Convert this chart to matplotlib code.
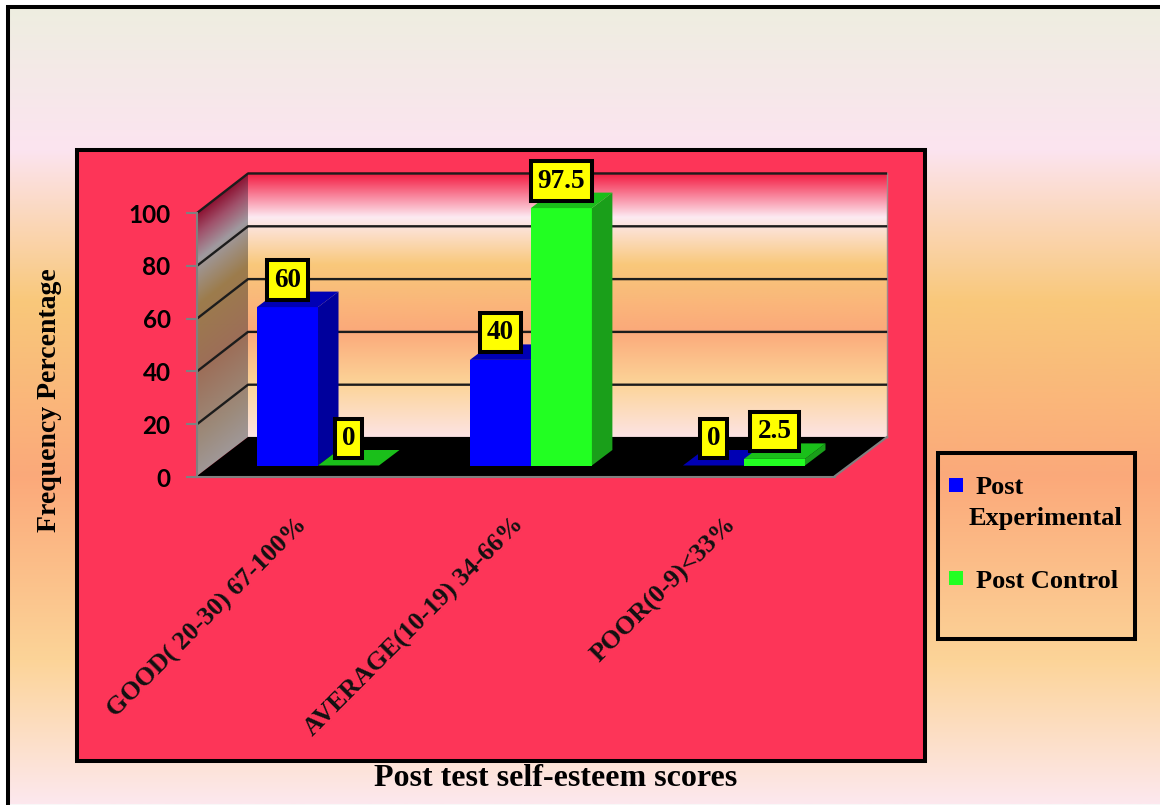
# -*- coding: utf-8 -*-
"""Post test self-esteem scores: pseudo 3D column chart on a gradient page."""
import numpy as np
import matplotlib
matplotlib.use("Agg")
import matplotlib.pyplot as plt
from matplotlib.colors import to_rgb
from matplotlib.patches import Polygon, Rectangle

categories = ["GOOD( 20-30) 67-100%", "AVERAGE(10-19) 34-66%", "POOR(0-9)<33%"]
post_experimental = [60, 40, 0]
post_control = [0, 97.5, 2.5]
y_ticks = [0, 20, 40, 60, 80, 100]

W, H = 1160, 805
PANEL = "#fd3558"
BLUE = ("#0000ff", "#00009c", "#0000b4")
GREEN = ("#22ff22", "#1a9f1a", "#1abf1a")
SERIF = "Liberation Serif"

# px per data unit on the front plane
PX_X = 638 / 3
PX_Y = 264 / 100
# floor depth, and how far the columns sit behind the front edge
DEPTH_X, DEPTH_Y = 51 / PX_X, 39.5 / PX_Y
BAR_DEPTH_X, BAR_DEPTH_Y = 20.5 / PX_X, 15.5 / PX_Y
BASE = 11.5 / PX_Y
BAR_W = 61 / PX_X
CENTERS = [0.569, 1.57, 2.572]


def vgrad(stops, colors):
    """Rows of RGB for gradient stops given as 0..1 positions."""
    t = np.linspace(0, 1, 600)
    rgb = np.array([to_rgb(c) for c in colors])
    return np.stack([np.interp(t, stops, rgb[:, i]) for i in range(3)], axis=1)[:, None, :]


def draw_column(ax, x0, val, cols):
    front, side, top = cols
    y1 = BASE + val
    x1 = x0 + BAR_W
    dx, dy = BAR_DEPTH_X, BAR_DEPTH_Y
    if val > 0:
        ax.bar(x0, val, BAR_W, bottom=BASE, align="edge", color=front, zorder=4, clip_on=False)
        ax.add_patch(Polygon([(x1, BASE), (x1 + dx, BASE + dy), (x1 + dx, y1 + dy), (x1, y1)],
                             fc=side, ec="none", zorder=4, clip_on=False))
    ax.add_patch(Polygon([(x0, y1), (x0 + dx, y1 + dy), (x1 + dx, y1 + dy), (x1, y1)],
                         fc=top, ec="none", zorder=4, clip_on=False))


def value_label(ax, x, val):
    ax.annotate(f"{val:g}", xy=(x, BASE + val), xytext=(0, 19.5), textcoords="offset points",
                ha="center", va="center", family=SERIF, fontweight="bold", fontsize=19.5,
                color="black", zorder=8, annotation_clip=False,
                bbox=dict(boxstyle="square,pad=0.26", fc="#ffff00", ec="black", lw=2.9))


fig = plt.figure(figsize=(W / 100, H / 100), dpi=100, facecolor="white")

# page, panel and walls are laid out in pixels
bg = fig.add_axes([0, 0, 1, 1])
page = vgrad([0, 0.18, 0.37, 0.59, 0.82, 1.0],
             ["#eeeee0", "#fce4f0", "#f9c87a", "#fba97a", "#fcd498", "#fde8ee"])
bg.imshow(page, extent=(8, W, 804, 7), aspect="auto", interpolation="bilinear", zorder=0)
bg.add_patch(Rectangle((77, 150), 848, 611, fc=PANEL, ec="black", lw=2.9, zorder=1))

wall = vgrad([0, 0.03, 0.17, 0.35, 0.60, 0.80, 1.0],
             ["#ee1a3c", "#f53a5c", "#fdeaf2", "#f9c87a", "#fba97a", "#fcd498", "#fde4e4"])
bg.imshow(wall, extent=(248, 887, 437, 173), aspect="auto", interpolation="bilinear", zorder=2)

# side wall shading follows the slant of the wall
xx, yy = np.meshgrid(np.arange(197, 249), np.arange(170, 478))
t = (yy - (213 - (xx - 197) * 40 / 51)) / 264
side_stops = [0, 0.08, 0.18, 0.35, 0.6, 0.85, 1.0]
side_cols = np.array([to_rgb(c) for c in
                      ["#8c1030", "#a0506a", "#a09aa0", "#9c7c4c", "#9c6e58", "#9c8a7a", "#a09898"]])
side_img = np.stack([np.interp(t, side_stops, side_cols[:, i]) for i in range(3)], axis=2)
im = bg.imshow(side_img, extent=(197, 249, 478, 170), aspect="auto", zorder=2)
side_clip = Polygon([(197, 476), (197, 213), (248, 173), (248, 437)], transform=bg.transData)
im.set_clip_path(side_clip)

bg.add_patch(Polygon([(197, 476), (248, 437), (887, 437), (835, 476)], fc="black", ec="none", zorder=3))
bg.plot([887, 887], [173, 437], color="#a08a8a", lw=1, zorder=3)
bg.plot([248, 887], [437, 437], color="#998888", lw=1, zorder=2.5)
bg.plot([835, 887], [476, 437], color="#808080", lw=1.5, zorder=3)

# legend box
bg.add_patch(Rectangle((938, 453), 197, 186, fc="none", ec="black", lw=2.9, zorder=5))
bg.add_patch(Rectangle((949, 478), 14, 14, fc=BLUE[0], ec="none", zorder=5))
bg.add_patch(Rectangle((949, 571), 14, 14, fc=GREEN[0], ec="none", zorder=5))
for x, y, s in [(976, 487, "Post"), (969, 518, "Experimental"), (976, 581, "Post Control")]:
    bg.text(x, y, s, ha="left", va="center", family=SERIF, fontweight="bold", fontsize=19, zorder=6)

bg.plot([6, W], [7, 7], color="black", lw=2.9, zorder=7, solid_capstyle="butt")
bg.plot([8, 8], [5, H], color="black", lw=2.9, zorder=7, solid_capstyle="butt")
bg.plot([8, W], [804.5, 804.5], color="#888888", lw=0.8, zorder=7)
bg.set_xlim(0, W)
bg.set_ylim(H, 0)
bg.axis("off")

# chart axes cover the front plane of the box
ax = fig.add_axes([197 / W, 1 - 477 / H, 638 / W, 264 / H])
ax.patch.set_alpha(0)
ax.set_xlim(0, 3)
ax.set_ylim(0, 100)
for s in ("top", "right"):
    ax.spines[s].set_visible(False)
for s in ("left", "bottom"):
    ax.spines[s].set_color("#808080")
    ax.spines[s].set_linewidth(1.5)

# gridlines run up the side wall and across the back wall
for v in y_ticks:
    if v > 0:
        ax.plot([0, DEPTH_X, 3 + DEPTH_X], [v, v + DEPTH_Y, v + DEPTH_Y],
                color="#1c1c1c", lw=1.7, zorder=1, clip_on=False)

for i, cx in enumerate(CENTERS):
    draw_column(ax, cx - BAR_W, post_experimental[i], BLUE)
    draw_column(ax, cx, post_control[i], GREEN)
    value_label(ax, cx - BAR_W / 2, post_experimental[i])
    value_label(ax, cx + BAR_W / 2, post_control[i])

ax.set_yticks(y_ticks)
ax.set_yticklabels([str(v) for v in y_ticks], family="Lato", fontweight="bold", fontsize=17.5)
ax.tick_params(axis="y", direction="out", length=8, width=1.5, color="#808080", pad=11)

ax.set_xticks([0.5, 1.52, 2.52])
ax.set_xticklabels(categories, rotation=45, ha="right", va="center", rotation_mode="anchor",
                   family=SERIF, fontweight="bold", fontsize=18.8, color="#111111")
ax.tick_params(axis="x", length=0, pad=32)

ax.set_ylabel("Frequency Percentage", family=SERIF, fontweight="bold", fontsize=20)
ax.yaxis.set_label_coords((62 - 197) / 638, (477 - 400) / 264)
ax.set_xlabel("Post test self-esteem scores", family=SERIF, fontweight="bold", fontsize=23)
ax.xaxis.set_label_coords((556 - 197) / 638, (477 - 778) / 264)
ax.xaxis.label.set_va("center")

fig.savefig("out.png", dpi=100, facecolor="white")
